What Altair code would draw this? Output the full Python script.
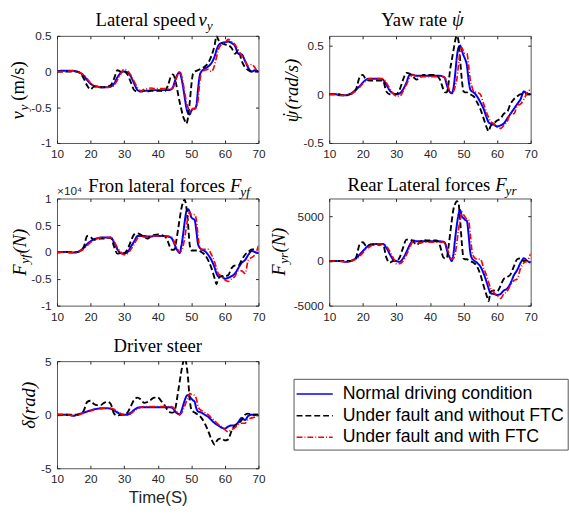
import altair as alt
import pandas as pd

# ---------------- data ----------------
T = [10, 11, 12, 13, 14, 15, 16, 17, 18, 19,
     20, 21, 22, 23, 24, 25, 26, 27, 28, 29,
     30, 31, 32, 33, 34, 35, 36, 37, 38, 39,
     40, 41, 42, 43, 44,
     44.5, 45, 45.5, 46, 46.5, 47, 47.5, 48, 48.5, 49,
     49.5, 50, 50.5, 51, 51.5, 52, 52.5, 53,
     54, 55, 56, 57, 57.5,
     58, 59, 60, 61, 62, 63, 64, 65, 66, 67, 68, 69, 70]

SERIES = ["Normal driving condition", "Under fault and without FTC", "Under fault and with FTC"]

# Lateral speed v_y (m/s)
VY_NORMAL = [0, 0.01, 0.01, 0.01, 0.01, 0.01, 0.0, -0.02, -0.06, -0.12,
             -0.17, -0.2, -0.21, -0.22, -0.22, -0.22, -0.21, -0.17, -0.08, -0.02,
             0.0, -0.01, -0.07, -0.17, -0.26, -0.28, -0.27, -0.27, -0.26, -0.26,
             -0.26, -0.26, -0.26, -0.26, -0.25,
             -0.22, -0.15, -0.08, -0.03, -0.01, -0.08, -0.2, -0.35, -0.5, -0.58,
             -0.6, -0.55, -0.52, -0.52, -0.48, -0.25, -0.06, 0.0,
             0.04, 0.07, 0.12, 0.22, 0.3,
             0.36, 0.4, 0.41, 0.42, 0.4, 0.36, 0.25, 0.24, 0.15, 0.05, 0.0, 0.02, 0.0]
VY_NOFTC = [0, 0, 0, 0, 0, 0, 0, -0.03, -0.1, -0.2,
            -0.25, -0.21, -0.21, -0.22, -0.22, -0.21, -0.19, -0.1, 0.02, 0.0,
            0.0, -0.04, -0.15, -0.26, -0.28, -0.27, -0.27, -0.28, -0.27, -0.27,
            -0.27, -0.27, -0.28, -0.2, -0.06,
            -0.04, -0.08, -0.18, -0.3, -0.42, -0.52, -0.62, -0.68, -0.73, -0.65,
            -0.45, -0.2, -0.03, 0.0, 0.01, 0.02, 0.03, 0.04,
            0.07, 0.12, 0.22, 0.38, 0.5,
            0.45, 0.4, 0.38, 0.37, 0.33, 0.25, 0.3, 0.15, 0.06, 0.02, 0.0, 0.0, 0.0]
VY_FTC = [0, 0, 0, 0, 0.01, 0.01, 0.0, -0.02, -0.05, -0.1,
          -0.16, -0.19, -0.21, -0.22, -0.22, -0.22, -0.22, -0.19, -0.12, -0.03,
          0.03, 0.01, -0.05, -0.14, -0.23, -0.27, -0.25, -0.24, -0.23, -0.24,
          -0.24, -0.24, -0.24, -0.24, -0.24,
          -0.23, -0.18, -0.1, -0.04, 0.0, -0.04, -0.15, -0.28, -0.42, -0.5,
          -0.56, -0.56, -0.52, -0.52, -0.5, -0.4, -0.15, -0.02,
          0.02, 0.03, 0.0, 0.1, 0.2,
          0.3, 0.38, 0.4, 0.45, 0.42, 0.38, 0.3, 0.22, 0.15, 0.08, 0.1, 0.05, -0.03]

# Yaw rate (rad/s)
YR_NORMAL = [0.0, 0.0, 0.0, -0.01, -0.01, -0.01, 0.0, 0.02, 0.05, 0.08,
             0.12, 0.15, 0.16, 0.16, 0.16, 0.16, 0.15, 0.1, 0.04, 0.01,
             0.0, 0.01, 0.05, 0.12, 0.2, 0.2, 0.19, 0.19, 0.19, 0.19,
             0.19, 0.19, 0.19, 0.19, 0.18,
             0.16, 0.1, 0.05, 0.02, 0.01, 0.06, 0.2, 0.38, 0.48, 0.5,
             0.45, 0.4, 0.36, 0.3, 0.15, 0.05, 0.03, 0.02,
             -0.02, -0.08, -0.15, -0.25, -0.29,
             -0.3, -0.31, -0.33, -0.32, -0.3, -0.25, -0.2, -0.15, -0.1, -0.05, 0.03, 0.0, 0.0]
YR_NOFTC = [0, 0, 0, 0, -0.01, -0.01, 0.0, 0.01, 0.05, 0.17,
            0.2, 0.15, 0.14, 0.14, 0.14, 0.14, 0.14, 0.03, 0.0, 0.0,
            0.0, 0.05, 0.15, 0.22, 0.21, 0.18, 0.15, 0.17, 0.2, 0.2,
            0.2, 0.2, 0.19, 0.15, 0.05,
            0.02, 0.02, 0.1, 0.25, 0.35, 0.45, 0.55, 0.6, 0.55, 0.35,
            0.15, 0.03, 0.02, 0.02, 0.01, 0.0, -0.01, -0.02,
            -0.08, -0.15, -0.25, -0.35, -0.38,
            -0.33, -0.3, -0.27, -0.25, -0.2, -0.18, -0.1, -0.05, -0.02, 0.0, 0.0, 0.0, 0.0]
YR_FTC = [0, 0, 0, -0.01, -0.01, -0.01, 0.0, 0.01, 0.04, 0.07,
          0.11, 0.14, 0.16, 0.16, 0.16, 0.16, 0.16, 0.12, 0.06, 0.01,
          -0.02, -0.02, 0.03, 0.1, 0.17, 0.2, 0.18, 0.18, 0.18, 0.18,
          0.18, 0.18, 0.18, 0.18, 0.18,
          0.17, 0.13, 0.07, 0.03, 0.02, 0.03, 0.08, 0.15, 0.3, 0.45,
          0.48, 0.44, 0.42, 0.42, 0.3, 0.15, 0.08, 0.03,
          0.02, 0.0, -0.1, -0.2, -0.24,
          -0.28, -0.3, -0.34, -0.35, -0.32, -0.28, -0.2, -0.2, -0.12, -0.1, -0.05, 0.02, 0.05]

# Front lateral forces F_yf (x 10^4 N)
FF_NORMAL = [0, 0, 0, 0, -0.01, -0.01, 0.0, 0.03, 0.08, 0.15,
             0.2, 0.24, 0.26, 0.27, 0.27, 0.27, 0.27, 0.18, 0.05, -0.02,
             -0.03, 0.0, 0.1, 0.2, 0.3, 0.3, 0.3, 0.29, 0.29, 0.3,
             0.3, 0.3, 0.3, 0.29, 0.27,
             0.22, 0.15, 0.07, 0.02, -0.02, 0.1, 0.3, 0.55, 0.75, 0.8,
             0.75, 0.65, 0.62, 0.6, 0.4, 0.15, 0.08, 0.05,
             0.02, -0.05, -0.15, -0.3, -0.4,
             -0.45, -0.45, -0.5, -0.48, -0.45, -0.4, -0.3, -0.2, -0.15, -0.05, 0.02, 0.0, -0.02]
FF_NOFTC = [0, 0, 0, 0, 0, 0, 0, 0.02, 0.1, 0.3,
            0.28, 0.23, 0.24, 0.25, 0.25, 0.26, 0.27, 0.1, -0.03, -0.02,
            -0.02, 0.05, 0.2, 0.33, 0.35, 0.32, 0.28, 0.25, 0.3, 0.32,
            0.33, 0.32, 0.3, 0.2, 0.05,
            0.04, 0.05, 0.2, 0.4, 0.6, 0.8, 0.92, 0.98, 0.85, 0.55,
            0.15, 0.03, 0.03, 0.03, 0.03, 0.03, 0.02, 0.0,
            -0.05, -0.15, -0.3, -0.5, -0.6,
            -0.5, -0.45, -0.45, -0.43, -0.3, -0.25, -0.25, -0.15, -0.05, 0.0, 0.05, 0.05, 0.05]
FF_FTC = [0, 0, 0, 0, -0.01, -0.01, 0.0, 0.02, 0.06, 0.12,
          0.18, 0.22, 0.25, 0.27, 0.27, 0.27, 0.27, 0.2, 0.08, 0.0,
          -0.05, -0.03, 0.05, 0.15, 0.26, 0.3, 0.28, 0.28, 0.29, 0.3,
          0.3, 0.3, 0.3, 0.3, 0.28,
          0.25, 0.18, 0.1, 0.04, 0.0, 0.02, 0.1, 0.25, 0.45, 0.65,
          0.75, 0.7, 0.7, 0.7, 0.6, 0.3, 0.1, 0.05,
          0.05, 0.05, -0.05, -0.2, -0.3,
          -0.4, -0.45, -0.52, -0.55, -0.5, -0.45, -0.35, -0.35, -0.4, -0.15, -0.1, -0.05, 0.12]

# Rear lateral forces F_yr (N)
FR_NORMAL = [0, 0, 0, 0, -50, -100, -50, 100, 300, 700,
             1100, 1500, 1800, 1900, 1900, 1900, 1900, 1500, 800, 200,
             0, -100, 300, 1000, 1800, 2300, 2200, 2200, 2200, 2200,
             2200, 2200, 2200, 2200, 2150,
             2000, 1300, 700, 300, 0, 800, 2500, 4000, 5200, 5700,
             5000, 4800, 4600, 4500, 3000, 1000, 300, 100,
             -200, -600, -1400, -2500, -3100,
             -3600, -3700, -3800, -3700, -3300, -3100, -2500, -1600, -1000, -200, 300, 0, -200]
FR_NOFTC = [0, 0, 0, 0, 0, 0, 0, 50, 400, 1800,
            2100, 1700, 1800, 1800, 1800, 1800, 1900, 400, -200, 0,
            0, 400, 1500, 2400, 2400, 2200, 1800, 2100, 2400, 2300,
            2300, 2300, 2300, 1700, 400,
            300, 300, 1500, 3000, 4500, 5800, 6400, 6700, 6500, 4500,
            2000, 300, 200, 200, 100, 0, -100, -200,
            -600, -1500, -2800, -4000, -4500,
            -3500, -3300, -3400, -2800, -2000, -1800, -1500, -600, 200, 300, 0, 0, 0]
FR_FTC = [0, 0, 0, 0, -50, -100, -50, 50, 200, 500,
          900, 1300, 1600, 1800, 1900, 1900, 1900, 1700, 1100, 400,
          -300, -300, 0, 700, 1500, 2200, 2100, 2000, 2100, 2100,
          2100, 2100, 2100, 2100, 2100,
          2000, 1600, 1000, 500, 200, 300, 800, 2000, 3500, 4500,
          5500, 5200, 4900, 4700, 4600, 3000, 1200, 500,
          200, 200, -800, -1800, -2400,
          -3000, -3500, -3900, -4200, -3700, -3400, -2700, -2200, -2000, -800, -200, 0, 800]

# Driver steer (rad)
DS_NORMAL = [0, 0, 0, 0, -0.05, -0.1, 0.0, 0.1, 0.2, 0.3,
             0.4, 0.5, 0.55, 0.6, 0.6, 0.6, 0.55, 0.4, 0.2, 0.05,
             0.0, 0.0, 0.2, 0.45, 0.65, 0.7, 0.7, 0.7, 0.7, 0.7,
             0.7, 0.7, 0.7, 0.7, 0.68,
             0.6, 0.4, 0.2, 0.1, 0.0, 0.3, 0.8, 1.3, 1.7, 1.85,
             1.7, 1.5, 1.35, 1.2, 0.6, 0.3, 0.25, 0.2,
             0.0, -0.2, -0.5, -0.8, -0.9,
             -1.0, -1.2, -1.3, -1.1, -1.0, -1.0, -0.7, -0.3, -0.5, -0.1, 0.0, 0.0, 0.0]
DS_NOFTC = [0, 0, 0, 0, 0, 0, 0, 0.05, 0.4, 1.2,
            1.3, 1.0, 0.9, 0.9, 1.1, 1.2, 1.0, 0.1, -0.1, 0.0,
            0.0, 0.2, 0.8, 1.4, 1.6, 1.4, 1.1, 1.2, 1.4, 1.6,
            1.6, 1.3, 0.9, 0.4, 0.2,
            0.2, 0.3, 1.0, 2.0, 3.0, 4.0, 4.8, 5.3, 4.8, 3.5,
            1.5, 0.5, 0.3, 0.2, 0.1, 0.0, -0.1, -0.3,
            -0.8, -1.5, -2.3, -2.8, -2.5,
            -2.3, -2.2, -2.4, -2.3, -1.5, -1.0, -0.8, -0.5, 0.0, 0.1, 0.0, 0.0, 0.0]
DS_FTC = [0, 0, 0, 0, -0.05, -0.08, -0.02, 0.05, 0.15, 0.25,
          0.35, 0.45, 0.5, 0.55, 0.6, 0.6, 0.6, 0.5, 0.3, 0.1,
          -0.05, -0.05, 0.1, 0.35, 0.55, 0.7, 0.75, 0.75, 0.75, 0.75,
          0.75, 0.75, 0.75, 0.75, 0.75,
          0.7, 0.55, 0.35, 0.15, 0.05, 0.1, 0.4, 0.8, 1.2, 1.5,
          2.0, 1.9, 1.85, 1.8, 1.5, 0.8, 0.5, 0.4,
          0.2, 0.0, -0.3, -0.6, -0.75,
          -0.9, -1.1, -1.4, -1.6, -1.4, -1.2, -0.9, -0.8, -0.8, -0.4, -0.3, -0.2, 0.0]

X_TICKS = [10, 20, 30, 40, 50, 60, 70]

# ---------------- styling ----------------
COLORS = ["#0000FF", "#000000", "#FF0000"]
DASHES = [[1, 0], [6, 3], [6, 2, 1, 2]]
WIDTHS = [2.0, 1.9, 1.7]
SERIF = "Liberation Serif"
SANS = "Liberation Sans"
AXC = "#262626"
W, H = 205, 109
ONE = pd.DataFrame({"k": [0]})
MINUS = "replace(datum.label, '\u2212', '-')"
PSI = "\u03c8"
DOT = "\u02d9"


def piece(text, x, y, size=19, italic=False, align="left", angle=0, font=SERIF, color="black"):
    kw = dict(text=text, align=align, baseline="alphabetic", font=font,
              fontSize=size, color=color)
    if italic:
        kw["fontStyle"] = "italic"
    if angle:
        kw["angle"] = angle
    return alt.Chart(ONE).mark_text(**kw).encode(x=alt.value(x), y=alt.value(y))


def panel(vals, domain, ticks, fmt, texts, xtitle=None, legend=None):
    df = pd.DataFrame({
        "t": T * 3,
        "v": vals[0] + vals[1] + vals[2],
        "series": [SERIES[0]] * len(T) + [SERIES[1]] * len(T) + [SERIES[2]] * len(T),
    })
    xs = alt.Scale(domain=[10, 70], nice=False, zero=False)
    ys = alt.Scale(domain=domain, nice=False, zero=False)
    xb_kw = dict(orient="bottom", values=X_TICKS, format="d", offset=-3, tickSize=3,
                 domain=False, grid=False, labelFont=SANS, labelFontSize=12,
                 labelColor=AXC, tickColor=AXC, labelPadding=6, labelFlush=False,
                 labelOverlap=False)
    if xtitle:
        xb_kw.update(title=xtitle, titleFont=SANS, titleFontSize=17,
                     titleFontWeight="normal", titleColor=AXC, titlePadding=5)
    else:
        xb_kw.update(title=None)
    xb = alt.Axis(**xb_kw)
    yl = alt.Axis(orient="left", values=ticks, format=fmt, labelExpr=MINUS, offset=-3,
                  tickSize=3, domain=False, grid=False, labelFont=SANS, labelFontSize=12,
                  labelColor=AXC, tickColor=AXC, labelPadding=6, labelFlush=False,
                  labelOverlap=False, title=None)
    xt = alt.Axis(orient="top", values=X_TICKS, offset=-3, tickSize=3, labels=False,
                  domain=False, grid=False, tickColor=AXC, title=None)
    yr = alt.Axis(orient="right", values=ticks, offset=-3, tickSize=3, labels=False,
                  domain=False, grid=False, tickColor=AXC, title=None)
    axes = [(xb, yl), (xt, yr), (None, None)]
    layers = []
    for i, s in enumerate(SERIES):
        ax, ay = axes[i]
        layers.append(
            alt.Chart(df).transform_filter(alt.datum.series == s)
            .mark_line(strokeWidth=WIDTHS[i], clip=True, interpolate="monotone")
            .encode(
                x=alt.X("t:Q", scale=xs, axis=ax),
                y=alt.Y("v:Q", scale=ys, axis=ay),
                color=alt.Color("series:N", scale=alt.Scale(domain=SERIES, range=COLORS),
                                legend=legend),
                strokeDash=alt.StrokeDash("series:N", scale=alt.Scale(domain=SERIES, range=DASHES),
                                          legend=legend),
            )
        )
    txt = [piece(**p) for p in texts]
    return (alt.layer(*layers, *txt)
            .resolve_axis(x="independent", y="independent")
            .properties(width=W, height=H))


p1 = panel([VY_NORMAL, VY_NOFTC, VY_FTC], [-1, 0.5], [-1, -0.5, 0, 0.5], ".1~f", [
    dict(text="Lateral speed", x=141, y=-10, align="right"),
    dict(text="v", x=144, y=-10, italic=True),
    dict(text="y", x=152.5, y=-6, size=13.5, italic=True),
    dict(text="v", x=-34, y=85, italic=True, angle=270),
    dict(text="y", x=-30, y=76, size=13.5, italic=True, angle=270),
    dict(text="(m/s)", x=-34, y=66, angle=270),
])

p2 = panel([YR_NORMAL, YR_NOFTC, YR_FTC], [-0.5, 0.6], [-0.5, 0, 0.5], ".1~f", [
    dict(text="Yaw rate", x=120, y=-10, align="right"),
    dict(text=PSI, x=125, y=-10, italic=True),
    dict(text=DOT, x=133, y=-12, align="center"),
    dict(text=PSI, x=-32, y=88, italic=True, angle=270),
    dict(text=DOT, x=-34, y=80, angle=270, align="center"),
    dict(text="(rad/s)", x=-32, y=75, italic=True, angle=270),
])

p3 = panel([FF_NORMAL, FF_NOFTC, FF_FTC], [-1, 1], [-1, -0.5, 0, 0.5, 1], ".1~f", [
    dict(text="\u00d710\u2074", x=0, y=-4, size=12, font=SANS, color=AXC),
    dict(text="Fron lateral forces", x=171, y=-7, align="right"),
    dict(text="F", x=176, y=-7, italic=True),
    dict(text="yf", x=186.5, y=-3, size=13.5, italic=True),
    dict(text="F", x=-32, y=78.5, italic=True, angle=270),
    dict(text="yf", x=-28, y=66.5, size=13.5, italic=True, angle=270),
    dict(text="(N)", x=-32, y=56, italic=True, angle=270),
])

p4 = panel([FR_NORMAL, FR_NOFTC, FR_FTC], [-5000, 7000], [-5000, 0, 5000], "d", [
    dict(text="Rear Lateral forces", x=164, y=-8, align="right"),
    dict(text="F", x=169, y=-8, italic=True),
    dict(text="yr", x=179.5, y=-4, size=13.5, italic=True),
    dict(text="F", x=-45.5, y=78.5, italic=True, angle=270),
    dict(text="yr", x=-41.5, y=66.5, size=13.5, italic=True, angle=270),
    dict(text="(N)", x=-45.5, y=55, italic=True, angle=270),
])

LEGEND = alt.Legend(orient="none", legendX=240.7, legendY=18, title=None,
                    symbolType="M-1.6,0H1.6", symbolSize=529, symbolStrokeWidth=1.6,
                    symbolOffset=6,
                    labelFont=SANS, labelFontSize=18, labelColor="black", labelLimit=400,
                    labelOffset=16, padding=3, rowPadding=0, strokeColor="#555555",
                    fillColor="white")

p5 = panel([DS_NORMAL, DS_NOFTC, DS_FTC], [-5, 5], [-5, 0, 5], "d", [
    dict(text="Driver steer", x=102.5, y=-9, align="center"),
    dict(text="\u03b4(rad)", x=-22, y=45, italic=True, angle=270, align="center"),
], xtitle="Time(S)", legend=LEGEND)

chart = (
    alt.concat(p1, p2, p3, p4, p5, columns=2, spacing=alt.RowColnumber(row=56.5, column=72),
               bounds="flush")
    .resolve_scale(x="independent", y="independent", color="independent",
                   strokeDash="independent")
    .properties(padding={"left": 8, "top": 4, "right": 0, "bottom": 0}, background="white")
    .configure_view(stroke="#555555", strokeWidth=1)
)

chart.save("out.html", embed_options={"renderer": "svg", "actions": False})
